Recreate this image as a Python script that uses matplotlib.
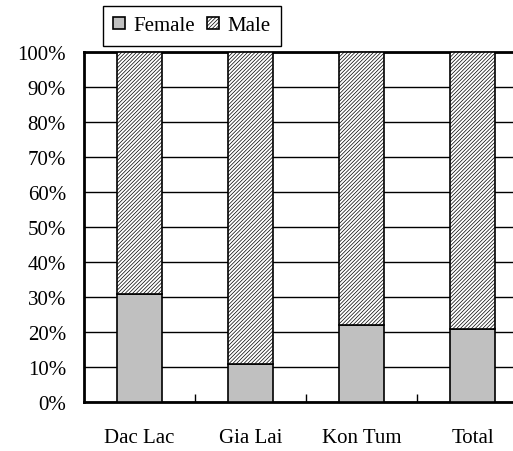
import matplotlib.pyplot as plt
import numpy as np

plt.rcParams['font.family'] = ['Liberation Serif', 'DejaVu Serif']
plt.rcParams['hatch.linewidth'] = 0.5

categories = ['Dac Lac', 'Gia Lai', 'Kon Tum', 'Total']
female = [31, 11, 22, 21]
male = [69, 89, 78, 79]

fig = plt.figure(figsize=(5.13, 4.52), dpi=100)
ax = fig.add_axes([84/513, 49/452, 444/513, 350/452])

x = np.arange(len(categories))
ax.bar(x, female, width=0.41, color='#c0c0c0', edgecolor='black', linewidth=1.2, label='Female', zorder=3)
ax.bar(x, male, width=0.41, bottom=female, color='white', edgecolor='black', linewidth=1.2,
       hatch='/////////', label='Male', zorder=3)

ax.set_xlim(-0.5, 3.5)
ax.set_ylim(0, 100)
ax.set_yticks(range(0, 101, 10))
ax.set_yticklabels([f'{v}%' for v in range(0, 101, 10)], fontsize=15)
ax.set_xticks(x)
ax.set_xticklabels(categories, fontsize=15)
ax.set_xticks(np.arange(0.5, 3.5, 1), minor=True)
ax.tick_params(axis='x', which='major', length=0, pad=19)
ax.tick_params(axis='x', which='minor', direction='in', length=6, width=1)
ax.tick_params(axis='y', length=0, pad=13)
ax.yaxis.grid(True, color='black', linewidth=1)
ax.set_axisbelow(True)
for s in ['left', 'bottom', 'top']:
    ax.spines[s].set_linewidth(2)
ax.spines['right'].set_visible(False)

fig.legend(loc='upper left', bbox_to_anchor=(103/513, 1 - 7/452), borderaxespad=0, ncol=2, fontsize=15,
           frameon=True, fancybox=False, edgecolor='black', framealpha=1,
           handlelength=0.55, handleheight=0.55, handletextpad=0.4, columnspacing=0.6,
           borderpad=0.5)

fig.savefig('out.png', dpi=100)
